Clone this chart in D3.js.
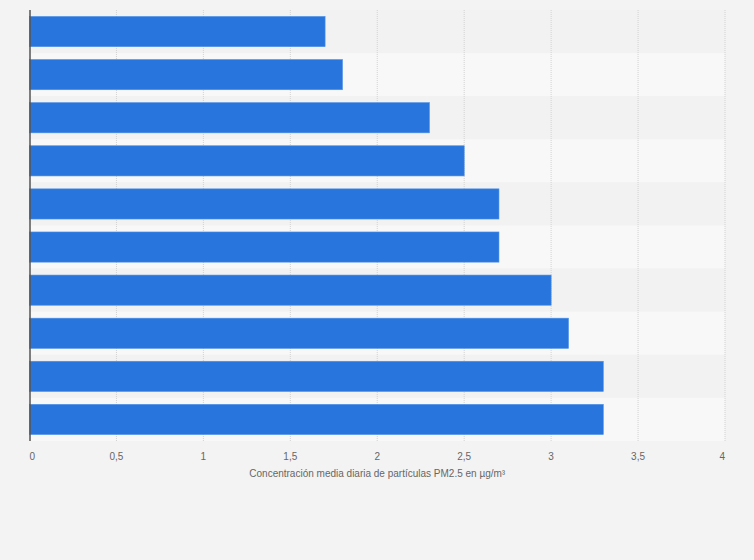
<!DOCTYPE html>
<html><head><meta charset="utf-8">
<script src="https://cdn.jsdelivr.net/npm/d3@7"></script>
<style>
html,body{margin:0;padding:0;background:#f3f3f3;}
svg{display:block;font-family:"Liberation Sans",Arial,sans-serif;}
</style></head>
<body>
<svg id="c" width="754" height="560"></svg>
<script>
const categories = ["c1","c2","c3","c4","c5","c6","c7","c8","c9","c10"];
const values = [1.7, 1.8, 2.3, 2.5, 2.7, 2.7, 3.0, 3.1, 3.3, 3.3];
const tickValues = [0, 0.5, 1, 1.5, 2, 2.5, 3, 3.5, 4];
const tickLabels = ["0", "0,5", "1", "1,5", "2", "2,5", "3", "3,5", "4"];
const axisTitle = "Concentración media diaria de partículas PM2.5 en µg/m³";

const svg = d3.select("#c");
const W = 754, H = 560;
const m = {left: 29.5, right: W - 725, top: 10, bottom: H - 441};
const x = d3.scaleLinear().domain([0, 4]).range([m.left, W - m.right]);
const y = d3.scaleBand().domain(categories).range([m.top, H - m.bottom]).paddingInner(0.3).paddingOuter(0.15);
const yStripe = d3.scaleBand().domain(categories).range([m.top, H - m.bottom]);

svg.append("rect").attr("width", W).attr("height", H).attr("fill", "#f3f3f3");

svg.append("g").selectAll("rect").data(categories).join("rect")
  .attr("x", x(0)).attr("width", x(4) - x(0))
  .attr("y", d => yStripe(d)).attr("height", yStripe.bandwidth())
  .attr("fill", (d, i) => i % 2 ? "#f8f8f8" : "#f2f2f2");

svg.append("g").selectAll("line").data(tickValues.slice(1)).join("line")
  .attr("x1", d => x(d)).attr("x2", d => x(d))
  .attr("y1", m.top).attr("y2", H - m.bottom)
  .attr("stroke", "#d2d2d2").attr("stroke-width", 1)
  .attr("stroke-dasharray", "1,1");

svg.append("g").selectAll("rect").data(values).join("rect")
  .attr("x", x(0)).attr("y", (d, i) => y(categories[i]))
  .attr("width", d => x(d) - x(0)).attr("height", y.bandwidth())
  .attr("fill", "#2876dd").attr("stroke", "#4d8fe6").attr("stroke-width", 0.6);

svg.append("line").attr("x1", 30).attr("x2", 30)
  .attr("y1", m.top).attr("y2", H - m.bottom)
  .attr("stroke", "#555").attr("stroke-width", 1.5);

const n = tickValues.length;
svg.append("g").selectAll("text").data(tickValues).join("text")
  .attr("x", (d, i) => x(d))
  .attr("y", 459.5)
  .attr("text-anchor", (d, i) => i === 0 ? "start" : (i === n - 1 ? "end" : "middle"))
  .attr("font-size", 10).attr("fill", "#666")
  .text((d, i) => tickLabels[i]);

svg.append("text").attr("x", (x(0) + x(4)) / 2).attr("y", 476.5)
  .attr("text-anchor", "middle").attr("font-size", 10).attr("fill", "#666")
  .text(axisTitle);
</script>
</body></html>
